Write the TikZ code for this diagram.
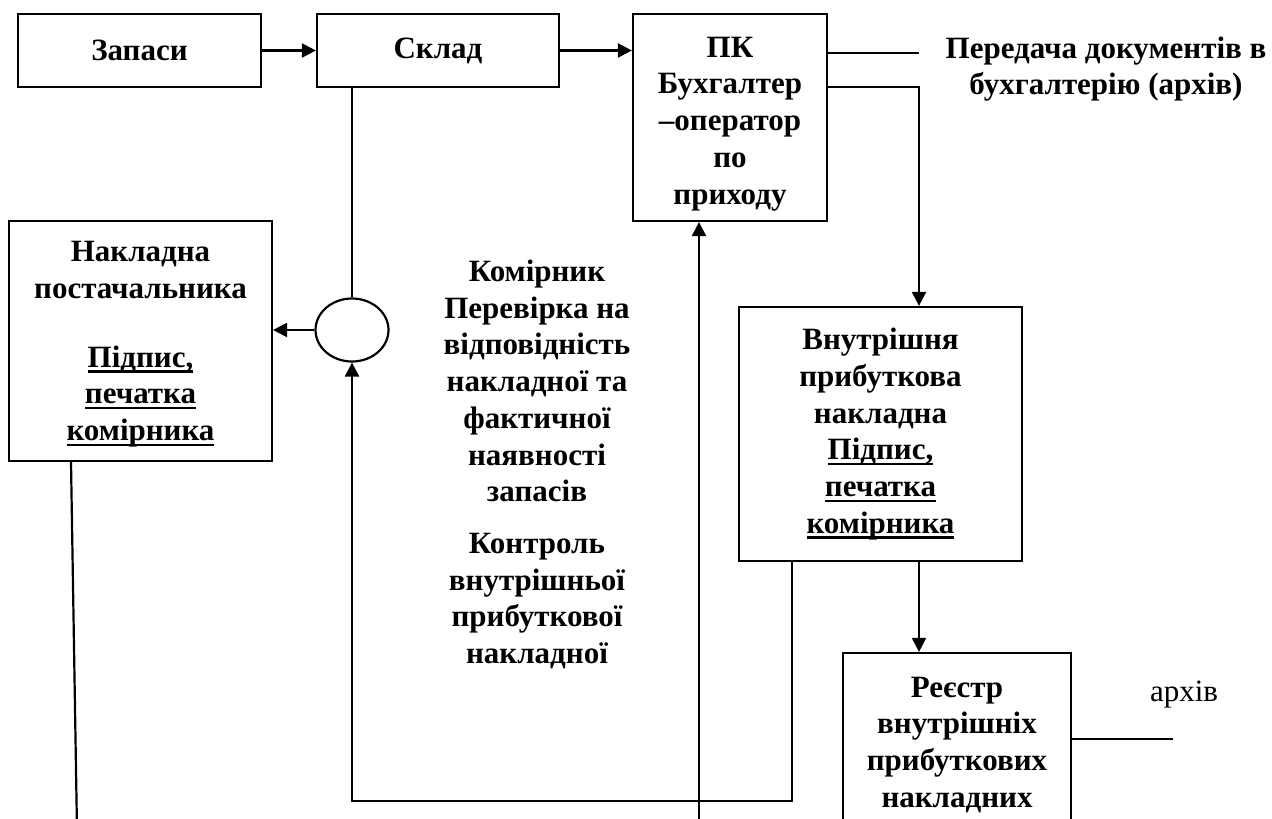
\documentclass[tikz,border=0pt]{standalone}
\usepackage{fontspec}
\setmainfont{Liberation Serif}
\usepackage{tikz}
\usetikzlibrary{arrows.meta}
\usetikzlibrary{shapes}
\usetikzlibrary{positioning}
\tikzset{
    blok/.style={
           rectangle,
           draw=black, line width=2.2pt,
           inner sep=0pt,
           align=center,
           font=\fontsize{31}{36.7}\selectfont\bfseries,
           },
    napys/.style={
           align=center, inner sep=0pt,
           font=\fontsize{31}{36.7}\selectfont\bfseries,
           },
    zv/.style={-{Triangle[length=14pt,width=14pt]}},
}
\newcommand{\pidp}[1]{\setbox0=\hbox{#1}\leavevmode\rlap{\rule[-5.5pt]{\wd0}{2.4pt}}\box0}

\begin{document}
\begin{tikzpicture}[x=1pt,y=-1pt,line width=2.2pt]
      \clip (0,0) rectangle (1272,819);
      \node[blok,minimum width=243pt,minimum height=73pt] (zap) at (139.5,50.5) {Запаси};
      \node[blok,minimum width=242pt,minimum height=73pt] (skl) at (438,50.5) {Склад};
      \node[blok,minimum width=194pt,minimum height=207pt] (pk) at (730,117.5)
            {\rule{0pt}{33pt}ПК\\Бухгалтер\\--оператор\\по\\приходу};
      \node[blok,minimum width=263pt,minimum height=240pt] (nakl) at (140.5,341)
            {\rule{0pt}{27pt}Накладна\\постачальника\\[32pt]\pidp{Підпис,}\\\pidp{печатка}\\\pidp{комірника}};
      \node[draw,ellipse,minimum width=73pt,minimum height=63pt,inner sep=0pt] (kolo) at (352,330) {};
      \node[blok,minimum width=283pt,minimum height=254pt] (vnut) at (880.5,434)
            {Внутрішня\\прибуткова\\накладна\\\pidp{Підпис,}\\\pidp{печатка}\\\pidp{комірника}};
      \node[blok,minimum width=228pt,minimum height=178pt] (reestr) at (957,742)
            {\rule{0pt}{26pt}Реєстр\\внутрішніх\\прибуткових\\накладних};
      \node[napys] (komir) at (537,381)
            {Комірник\\Перевірка на\\відповідність\\накладної та\\фактичної\\наявності\\запасів};
      \node[napys] (kontr) at (537,601) {Контроль\\внутрішньої\\прибуткової\\накладної};
      \node[napys] (pered) at (1106,69) {Передача документів в\\бухгалтерію (архів)};
      \node[napys,font=\fontsize{31}{36.7}\selectfont] (arh) at (1184,695) {архів};
      % free ends
      \coordinate (p1) at (919,53);
      \coordinate (p2) at (919,87);
      \coordinate (ret) at (792,801);
      \coordinate (niz1) at (699,830);
      \coordinate (niz2) at (77,830);
      \coordinate (arh1) at (1173,739);

      \draw[zv] (zap) -- (skl);
      \draw[zv] (skl.east) -- (skl.east -| pk.west);
      \draw (pk.east |- p1) -- (p1);
      \draw[zv] (pk.east |- p2) -- (p2) -- (p2 |- vnut.north);
      \draw (kolo.north) -- (kolo.north |- skl.south);
      \draw[zv] (kolo.west) -- (kolo.west -| nakl.east);
      \draw[zv] (vnut.south -| ret) -- (ret) -| (kolo.south);
      \draw[zv] (vnut.south -| p2) -- (reestr.north -| p2);
      \draw (reestr.east |- arh1) -- (arh1);
      \draw[zv] (niz1) -- (niz1 |- pk.south);
      \draw ([xshift=-69.5pt]nakl.south) -- (niz2);
    \end{tikzpicture}
\end{document}
